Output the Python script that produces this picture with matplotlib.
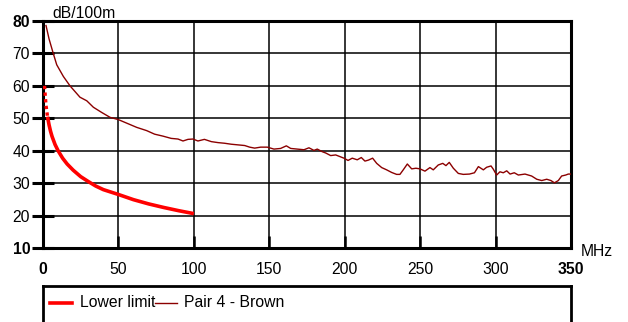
import matplotlib
matplotlib.use("Agg")
import matplotlib.pyplot as plt
from matplotlib.lines import Line2D

plt.rcParams["font.family"] = ["Liberation Sans", "DejaVu Sans"]

# Lower limit curve
limit_f = [1, 2, 3, 4, 5, 6, 8, 10, 13, 16, 20, 25, 30, 35, 40, 50, 60, 70, 80, 90, 100]
limit_db = [60, 54, 50.5, 48, 46, 44.4, 41.9, 40, 37.7, 35.9, 34, 32, 30.5, 29.1, 28,
            26.5, 24.9, 23.6, 22.5, 21.5, 20.6]

# Pair 4 - Brown measurement
pair_f = [2, 4, 6.8, 9.1, 13.5, 17.9, 24.5, 29, 33.4, 38.9, 44.4, 49.9, 55.5, 62.1, 68.7,
          74, 79.5, 85, 89.5, 92.8, 96.1, 99.4, 102.7, 107, 111.6, 116, 120.4, 124.8,
          129.3, 133.7, 137, 140.3, 144.3, 148.7, 153.1, 157.5, 161.3, 164.2, 168.6, 173,
          176.3, 179.6, 181.8, 185.1, 187.4, 190.7, 194, 197.3, 199.5, 202.2, 205, 208.3,
          211, 213.4, 215.7, 218.5, 221.2, 224.5, 227.8, 231.1, 234.4, 236.6, 238.8,
          241.5, 244.4, 247.2, 249.9, 253.2, 256.5, 258.7, 262, 265, 267.1, 269.3, 272,
          275.3, 278.6, 282.7, 286, 288.6, 291.9, 294.1, 297, 298.5, 300.7, 302.9, 305.1,
          307.4, 309.6, 312.4, 315.1, 319.5, 323.9, 327.3, 330.6, 333.9, 336.7, 339,
          341.6, 343.8, 346.5, 348.2, 350]
pair_db = [78.6, 74.5, 70.0, 66.5, 62.9, 60.0, 56.5, 55.4, 53.4, 51.8, 50.3, 49.6, 48.5,
           47.2, 46.2, 45.1, 44.5, 43.8, 43.6, 43.0, 43.5, 43.6, 43.0, 43.5, 42.8, 42.5,
           42.3, 42.0, 41.8, 41.6, 41.1, 40.8, 41.1, 41.1, 40.5, 40.7, 41.5, 40.7, 40.5,
           40.3, 40.9, 40.1, 40.5, 39.7, 39.3, 38.5, 38.7, 38.1, 37.7, 37.0, 37.7, 37.2,
           37.9, 36.8, 37.1, 37.7, 36.1, 34.8, 34.1, 33.3, 32.7, 32.7, 34.1, 35.9, 34.4,
           34.6, 34.4, 33.7, 34.8, 34.1, 35.6, 36.1, 35.4, 36.4, 34.6, 33.0, 32.7, 32.8,
           33.2, 35.1, 34.1, 34.9, 35.3, 34.3, 32.5, 33.5, 33.2, 33.8, 32.8, 33.2, 32.5,
           32.8, 32.2, 31.2, 30.8, 31.2, 30.8, 30.1, 30.8, 32.2, 32.5, 32.8, 32.8]

xticks = [0, 50, 100, 150, 200, 250, 300, 350]
yticks = [10, 20, 30, 40, 50, 60, 70, 80]

RED = "#ff0000"
BROWN = "#8b0000"
W, H = 628, 322
FS = 11.3

fig = plt.figure(figsize=(W / 100, H / 100), dpi=100)
ax = fig.add_axes([43 / W, 1 - 248 / H, 528 / W, 227 / H])
ax.set_xlim(0, 350)
ax.set_ylim(10, 80)

# lower limit: dotted steep start, then solid
ax.plot(limit_f[:3], limit_db[:3], color=RED, lw=2.4, ls=(0, (1, 1)), zorder=4)
ax.plot(limit_f[2:], limit_db[2:], color=RED, lw=2.6, zorder=4, solid_capstyle="butt")
ax.plot(pair_f, pair_db, color=BROWN, lw=1.0, zorder=5)

ax.set_xticks(xticks)
ax.set_yticks(yticks)
ax.grid(True, color="black", lw=1.1)
ax.set_axisbelow(True)
for s in ax.spines.values():
    s.set_linewidth(2.2)
    s.set_color("black")

ax.tick_params(axis="y", direction="inout", length=16.5, width=2.2, pad=1, labelsize=FS)
ax.tick_params(axis="x", direction="in", length=8.6, width=1.8, pad=10, labelsize=FS)
ax.set_xticks([0, 350], minor=True)
ax.tick_params(axis="x", which="minor", direction="out", length=7, width=2.2)
for lab in ax.get_yticklabels():
    if lab.get_text() in ("10", "80"):
        lab.set_fontweight("bold")
for lab in ax.get_xticklabels():
    if lab.get_text() in ("0", "350"):
        lab.set_fontweight("bold")

fig.text(52 / W, 1 - 13 / H, "dB/100m", fontsize=FS, va="center", ha="left")
fig.text(581 / W, 1 - 251 / H, "MHz", fontsize=FS, va="center", ha="left")

# legend box
lax = fig.add_axes([43 / W, 1 - 335 / H, 528 / W, 49 / H])
lax.set_xlim(43, 571)
lax.set_ylim(335, 286)
lax.set_xticks([])
lax.set_yticks([])
for s in lax.spines.values():
    s.set_linewidth(2)
lax.add_line(Line2D([50, 72], [303, 303], color=RED, lw=2.6))
lax.text(80, 303, "Lower limit", fontsize=FS, va="center", ha="left")
lax.add_line(Line2D([155, 177], [303, 303], color=BROWN, lw=1.0))
lax.text(184, 303, "Pair 4 - Brown", fontsize=FS, va="center", ha="left")

fig.savefig("out.png", dpi=100)
